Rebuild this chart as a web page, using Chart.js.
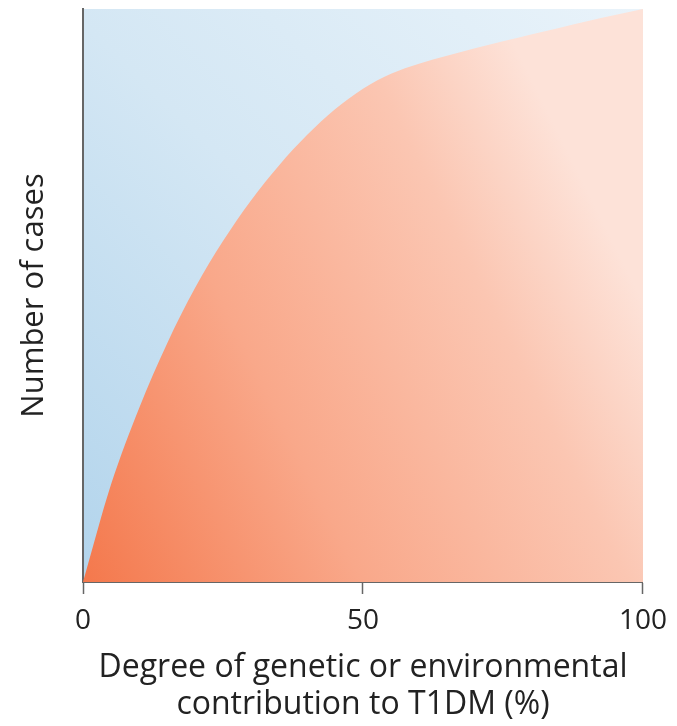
<!DOCTYPE html>
<html>
<head>
<meta charset="utf-8">
<style>
  html, body { margin: 0; padding: 0; background: #fff; }
  #wrap { width: 677px; height: 726px; position: relative; }
</style>
</head>
<body>
<div id="wrap"><canvas id="casesChart"></canvas></div>

<script src="https://cdn.jsdelivr.net/npm/chart.js"></script>
<script>
    // values (x in %, y as share of max cases)
    const contribution = [0, 5, 10, 15, 20, 25, 30, 35, 40, 45, 50, 55, 60, 65, 70, 75, 80, 85, 90, 95, 100];
    const cases = [0, 17.0, 30.3, 41.6, 51.3, 59.5, 66.6, 72.7, 78.0, 82.5, 86.1, 88.7, 90.45, 91.85, 93.15, 94.35, 95.55, 96.7, 97.85, 98.95, 100];
    const xTicks = [0, 50, 100];
    const xTitle = ['Degree of genetic or environmental', 'contribution to T1DM (%)'];
    const yTitle = 'Number of cases';

    const fontFamily = "'Open Sans', sans-serif";

    // blue panel behind the area
    const panelBackground = {
        id: 'panelBackground',
        beforeDraw(chart) {
            const { ctx, chartArea: a } = chart;
            const g = ctx.createLinearGradient(a.left, a.bottom, a.right, a.top);
            g.addColorStop(0, '#b2d4ec');
            g.addColorStop(0.5, '#d4e7f4');
            g.addColorStop(1, '#e9f3fa');
            ctx.save();
            ctx.fillStyle = g;
            ctx.fillRect(a.left, a.top, a.right - a.left, a.bottom - a.top);
            ctx.restore();
        }
    };

    // orange area, mostly left-to-right fade
    function areaFill(context) {
        const a = context.chart.chartArea;
        if (!a) return '#f8a283';
        const g = context.chart.ctx.createLinearGradient(a.left, a.bottom, a.right, a.bottom - 280);
        g.addColorStop(0, '#f4784c');
        g.addColorStop(0.4, '#f9a88a');
        g.addColorStop(0.78, '#fbc6b2');
        g.addColorStop(1, '#fde2d8');
        return g;
    }

    const ctx = document.getElementById('casesChart').getContext('2d');
    const casesChart = new Chart(ctx, {
        type: 'line',
        data: {
            datasets: [{
                data: contribution.map((x, i) => ({ x: x, y: cases[i] })),
                fill: 'origin',
                backgroundColor: areaFill,
                borderWidth: 0,
                pointRadius: 0,
                cubicInterpolationMode: 'monotone'
            }]
        },
        options: {
            responsive: true,
            maintainAspectRatio: false,
            animation: false,
            layout: { padding: { top: 9, right: 33, bottom: 0, left: 0 } },
            plugins: {
                legend: { display: false },
                tooltip: { enabled: false }
            },
            scales: {
                x: {
                    type: 'linear',
                    min: 0,
                    max: 100,
                    afterBuildTicks: (scale) => { scale.ticks = xTicks.map(v => ({ value: v })); },
                    afterFit: (scale) => { scale.height = 144; },
                    ticks: {
                        font: { family: fontFamily, size: 28 },
                        color: '#222',
                        padding: 10,
                        maxRotation: 0
                    },
                    grid: {
                        drawOnChartArea: false,
                        drawTicks: true,
                        tickLength: 12,
                        tickColor: '#666',
                        tickWidth: 1.5
                    },
                    border: { display: true, color: '#666', width: 2 },
                    title: {
                        display: true,
                        text: xTitle,
                        color: '#222',
                        font: { family: fontFamily, size: 32, lineHeight: 1.166 },
                        padding: { top: 0, bottom: 2.5 }
                    }
                },
                y: {
                    min: 0,
                    max: 100,
                    afterFit: (scale) => { scale.width = 83; },
                    ticks: { display: false },
                    grid: { display: false },
                    border: { display: true, color: '#666', width: 2 },
                    title: {
                        display: true,
                        text: yTitle,
                        color: '#222',
                        font: { family: fontFamily, size: 31, lineHeight: 1.166 },
                        padding: { top: 16, bottom: 0 }
                    }
                }
            }
        },
        plugins: [panelBackground]
    });
</script>
</body>
</html>
